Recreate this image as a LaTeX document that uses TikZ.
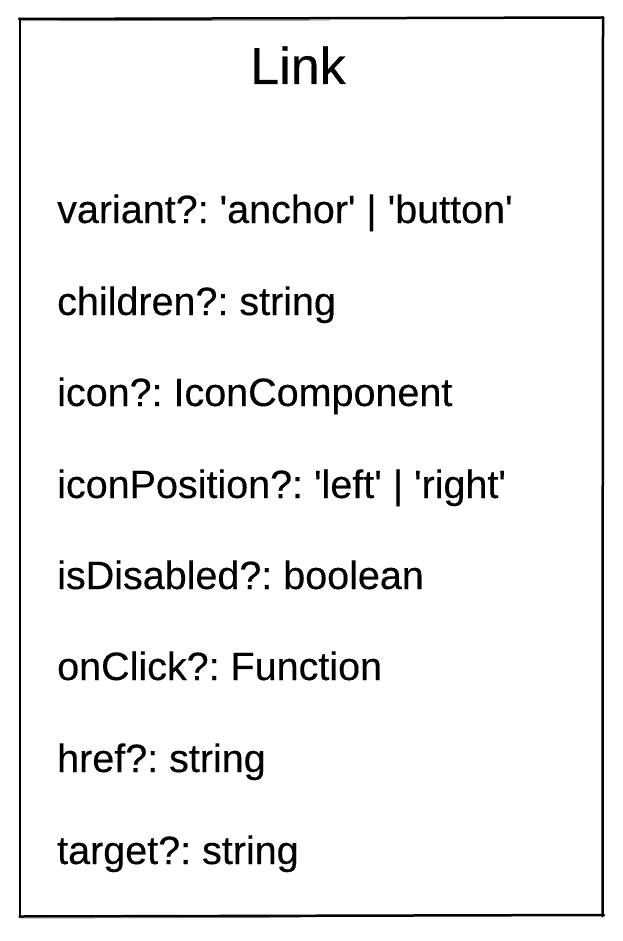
\documentclass[tikz,border=0pt]{standalone}
\usepackage{fontspec}
\setmainfont{Liberation Sans}[FakeBold=0.3]
\newcommand{\sq}{\textquotesingle}
\begin{document}
\frenchspacing
\begin{tikzpicture}[x=1pt,y=-1pt,
  frame/.style={draw=black,line width=2.5pt,line cap=round},
  frameghost/.style={draw=black!55,line width=0.9pt,line cap=round},
  title/.style={anchor=base,inner sep=0pt,font=\fontsize{52}{58}\selectfont},
  prop/.style={anchor=base west,inner sep=0pt,font=\fontsize{39.5}{46}\selectfont}]
  \useasboundingbox (0,0) rectangle (622,941);
  \fill[white] (0,0) rectangle (622,941);
  % hand-drawn outline of the class box
  \draw[frame] (19,19) -- (603,17.5);
  \draw[frameghost] (21,20.8) -- (330,20);
  \draw[frame] (20,18.5) -- (20,916);
  \draw[frame] (603,17.5) -- (602.5,916);
  \draw[frame] (19.5,916.5) -- (604,915);
  \draw[frameghost] (20,918) -- (300,917.2);
  % class name
  \node[title] (name) at (298,84) {Link};
  % properties
  \node[prop] (p1) at (57,223) {variant?: \sq anchor\sq{} | \sq button\sq};
  \node[prop] (p2) at (57,315) {children?: string};
  \node[prop] (p3) at (57,406) {icon?: IconComponent};
  \node[prop] (p4) at (57,498) {iconPosition?: \sq left\sq{} | \sq right\sq};
  \node[prop] (p5) at (57,589) {isDisabled?: boolean};
  \node[prop] (p6) at (57,680) {onClick?: Function};
  \node[prop] (p7) at (57,772) {href?: string};
  \node[prop] (p8) at (57,864) {target?: string};
\end{tikzpicture}
\end{document}
